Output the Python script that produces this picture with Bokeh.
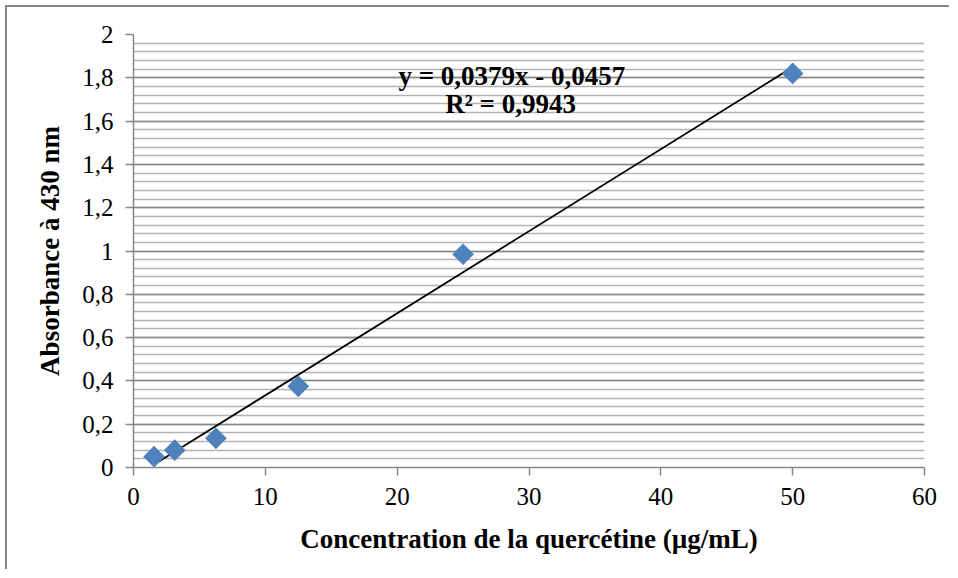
import math
from bokeh.plotting import figure
from bokeh.embed import file_html
from bokeh.resources import INLINE
from bokeh.models import (FixedTicker, CustomJSTickFormatter, Label,
                          Range1d, ColumnDataSource)

# Data
concentration = [1.5625, 3.125, 6.25, 12.5, 25, 50]
absorbance = [0.05, 0.08, 0.135, 0.375, 0.985, 1.82]
slope = 0.0379
intercept = -0.0457
equation_text = "y = 0,0379x - 0,0457"
r2_text = "R² = 0,9943"
x_ticks = [0, 10, 20, 30, 40, 50, 60]
y_ticks = [0, 0.2, 0.4, 0.6, 0.8, 1.0, 1.2, 1.4, 1.6, 1.8, 2.0]
y_minor = [round(i * 0.04, 2) for i in range(51)]
x_title = "Concentration de la quercétine (µg/mL)"
y_title = "Absorbance à 430 nm"

FONT = "Liberation Serif"
W, H = 942, 562

p = figure(width=W, height=H, output_backend="svg", toolbar_location=None,
           x_range=Range1d(0, 60), y_range=Range1d(0, 2),
           min_border_left=126, min_border_right=27, min_border_top=27,
           min_border_bottom=104)
p.background_fill_color = "white"
p.border_fill_color = "white"
p.outline_line_color = None

# outer chart border (only left and top edges are visible in the reference)
p.styles = {"border-left": "2px solid #868686", "border-top": "2px solid #868686",
            "margin": "5px 0 0 5px", "box-sizing": "content-box"}

# grid
p.xgrid.grid_line_color = None
p.ygrid.ticker = FixedTicker(ticks=y_ticks, minor_ticks=y_minor)
p.ygrid.grid_line_color = "#868686"
p.ygrid.grid_line_width = 1.5
p.ygrid.minor_grid_line_color = "#B3B3B3"
p.ygrid.minor_grid_line_width = 1.5

# axes
fmt = CustomJSTickFormatter(code="var s = Math.round(tick*10)/10; return s.toString().replace('.', ',');")
p.yaxis.ticker = FixedTicker(ticks=y_ticks)
p.yaxis.formatter = fmt
p.xaxis.ticker = FixedTicker(ticks=x_ticks)
for ax in (p.xaxis[0], p.yaxis[0]):
    ax.axis_line_color = "#868686"
    ax.axis_line_width = 1.5
    ax.major_tick_line_color = "#868686"
    ax.major_tick_line_width = 1.5
    ax.major_tick_in = 0
    ax.major_tick_out = 8
    ax.minor_tick_line_color = None
    ax.major_label_text_font = FONT
    ax.major_label_text_font_size = "25px"
    ax.major_label_text_color = "black"
    ax.axis_label_text_font = FONT
    ax.axis_label_text_font_size = "27px"
    ax.axis_label_text_font_style = "bold"
    ax.axis_label_text_color = "black"
p.xaxis.major_label_standoff = 12
p.yaxis.major_label_standoff = 12
p.xaxis.axis_label = x_title
p.yaxis.axis_label = y_title
p.xaxis.axis_label_standoff = 16
p.yaxis.axis_label_standoff = 14

# trendline
tx = [min(concentration), max(concentration)]
ty = [slope * v + intercept for v in tx]
p.line(tx, ty, line_color="black", line_width=1.8)

# points
src = ColumnDataSource(dict(x=concentration, y=absorbance))
p.scatter("x", "y", source=src, marker="square", size=15, angle=math.pi / 4,
          fill_color="#4F81BD", line_color="#4F81BD", line_width=0.5)

# equation labels
p.add_layout(Label(x=28.7, y=1.81, text=equation_text, text_font=FONT,
                   text_font_size="27px", text_font_style="bold",
                   text_align="center", text_baseline="middle", text_color="black"))
p.add_layout(Label(x=28.6, y=1.68, text=r2_text, text_font=FONT,
                   text_font_size="27px", text_font_style="bold",
                   text_align="center", text_baseline="middle", text_color="black"))

open("out.html", "w").write(file_html(p, INLINE))
